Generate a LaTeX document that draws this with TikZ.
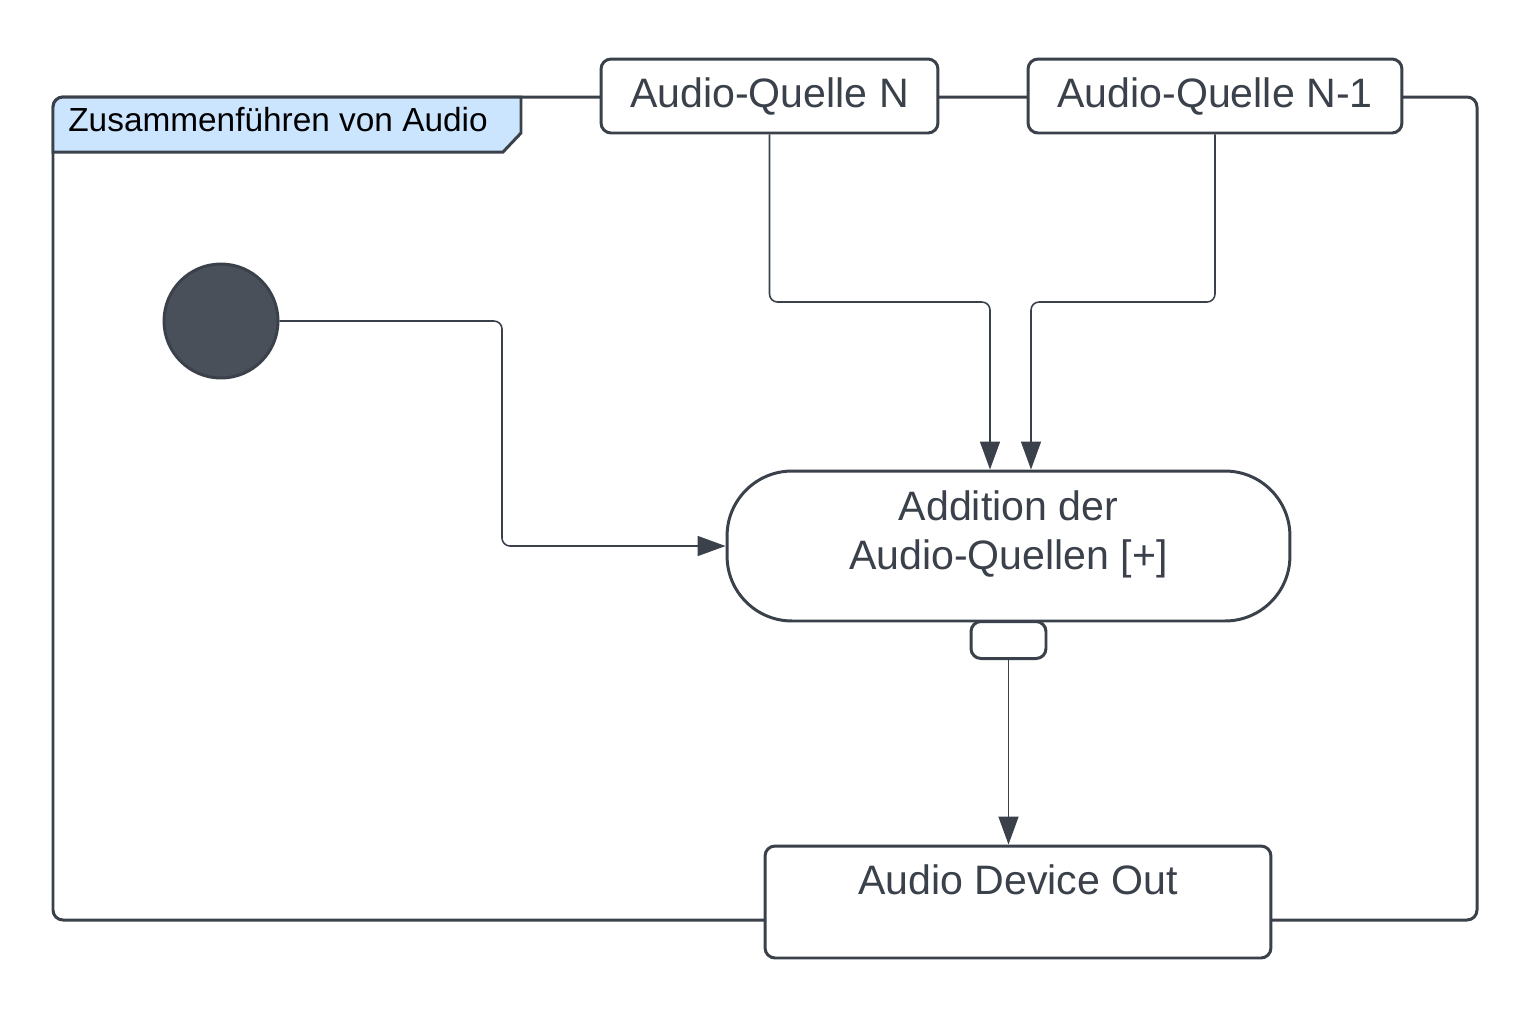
\documentclass[tikz,border=0pt]{standalone}
\usepackage{fontspec}
\setmainfont{Liberation Sans}
\usetikzlibrary{positioning,calc,arrows.meta}
\definecolor{ink}{HTML}{3A414A}
\definecolor{dot}{HTML}{4A5059}
\definecolor{tabblue}{HTML}{CCE5FF}
\begin{document}
\begin{tikzpicture}[x=0.02cm,y=-0.02cm,
                    box/.style={draw=ink,line width=1.7pt,fill=white,rounded corners=0.2cm,font=\fontsize{23.4}{28}\selectfont,text=ink,inner sep=0pt},
                    action/.style={box,rounded corners=1.3cm,minimum width=11.26cm,minimum height=3cm},
                    start node/.style={circle,draw=ink,line width=1.7pt,fill=dot,minimum size=2.28cm,inner sep=0pt},
                    flow/.style={draw=ink,line width=0.9pt,rounded corners=0.16cm,-{Triangle[length=0.56cm,width=0.4cm]}}
                   ]
  \useasboundingbox (0,0) rectangle (1536,1009);

  % frame and its tab
  \draw[ink,line width=1.7pt,rounded corners=0.2cm] (53,97) rectangle (1477,920);
  \draw[ink,line width=1.7pt,fill=tabblue] (53,152) [rounded corners=0.2cm] -- (53,97) [sharp corners] -- (521,97) -- (521,133) -- (503,152) -- cycle;
  \node[anchor=west,inner sep=0pt,font=\fontsize{19}{22}\selectfont] (tab) at (68,120) {Zusammenführen von Audio};

  \node[box,minimum width=6.74cm,minimum height=1.48cm] (qN) at (769.5,96) {Audio-Quelle N};
  \node[box,minimum width=7.48cm,minimum height=1.48cm] (qN1) at (1215,96) {Audio-Quelle N-1};
  \node[start node] (init) at (221,321) {};
  \node[box,minimum width=1.5cm,minimum height=0.74cm,rounded corners=0.2cm] (pin) at (1008.5,640) {};
  \node[action,label={[box,draw=none,fill=none,align=center,yshift=0.23cm]center:Addition der\\Audio-Quellen [+]}] (add) at (1008.5,546) {};
  \node[box,minimum width=10.12cm,minimum height=2.24cm,label={[box,draw=none,fill=none,anchor=north,yshift=-0.38cm]north:Audio Device Out}] (out) at (1018,902) {};

  \coordinate (jN) at (990,302);
  \coordinate (jN1) at (1031,302);
  \coordinate (k) at (502,546);

  \draw[flow] (qN.south) |- (jN) -- (jN |- add.north);
  \draw[flow] (qN1.south) |- (jN1) -- (jN1 |- add.north);
  \draw[flow] (init.east) -| (k) -- (add.west);
  \draw[flow] (pin.south) -- (pin.south |- out.north);
\end{tikzpicture}
\end{document}
